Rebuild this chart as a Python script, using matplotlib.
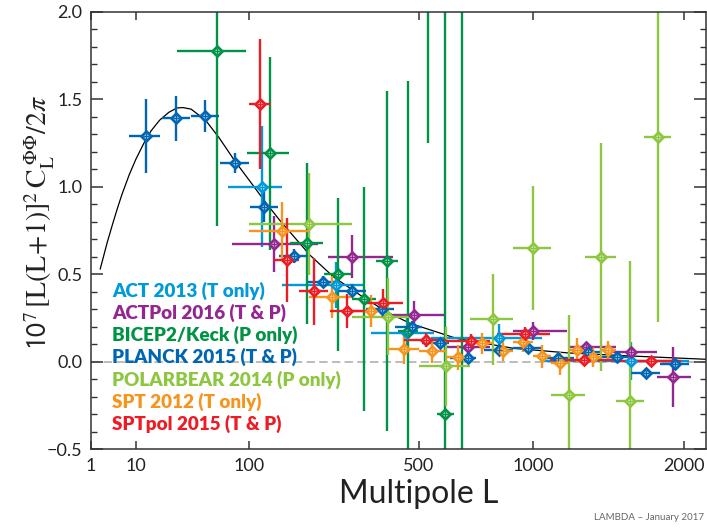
import numpy as np
import matplotlib
matplotlib.use('Agg')
import matplotlib.pyplot as plt
from matplotlib.ticker import MultipleLocator, NullLocator
from matplotlib.colors import to_rgb

plt.rcParams['font.family'] = ['Lato', 'DejaVu Sans']
plt.rcParams['mathtext.fontset'] = 'stix'

# theory curve
theory_L = [2, 3, 4, 5, 6, 8, 10, 13, 16, 20, 25, 30, 34, 40, 52, 65, 82, 100, 125,
            146, 202, 253, 320, 395, 470, 644, 900, 1190, 1600, 2190]
theory_C = [0.53, 0.68, 0.79, 0.88, 0.955, 1.07, 1.155, 1.25, 1.32, 1.38, 1.425, 1.45, 1.452,
            1.443, 1.38, 1.28, 1.15, 1.04, 0.905, 0.81, 0.61, 0.486, 0.381, 0.286, 0.22,
            0.133, 0.077, 0.051, 0.033, 0.014]

# ACT 2013 (T only)
act_L = [119, 260, 462, 830, 1602]
act_lo = [75, 150, 350, 545, 1047]
act_hi = [150, 333, 555, 1047, 2040]
act_C = [1.0, 0.438, 0.166, 0.133, 0.005]
act_err = [0.345, 0.13, 0.09, 0.08, 0.11]

# ACTPol 2016 (T & P)
actpol_L = [137, 299, 484, 692, 999, 1303, 1602, 1914]
actpol_lo = [79, 241, 416, 600, 899, 1197, 1460, 1795]
actpol_hi = [219, 416, 597, 788, 1190, 1500, 1795, 2060]
actpol_C = [0.673, 0.60, 0.267, 0.086, 0.175, 0.083, 0.057, -0.086]
actpol_err = [0.16, 0.124, 0.08, 0.035, 0.05, 0.03, 0.025, 0.17]

# BICEP2/Keck (P only)
bk_L = [63, 130, 197, 264, 331, 398, 465, 532, 599, 666]
bk_lo = [30, 97, 164, 231, 298, 365, 432, 499, 566, 633]
bk_hi = [96, 163, 230, 297, 364, 431, 498, 565, 632, 699]
bk_C = [1.777, 1.191, 0.677, 0.499, 0.357, 0.575, 0.176, 2.6, -0.301, -1.0]
bk_err = [1.0, 0.55, 0.46, 0.435, 0.64, 0.97, 1.43, 1.35, 2.6, 3.2]

# PLANCK 2015 (T & P)
planck_L = [13.7, 29.6, 51.9, 82.4, 121.6, 171.6, 230, 300, 383, 476, 578, 690, 830,
            975, 1140, 1320, 1505, 1712, 1931]
planck_lo = [8, 21, 40, 66, 101, 145, 199, 264, 337, 421, 513, 616, 760,
             900, 1055, 1230, 1410, 1605, 1815]
planck_hi = [20, 39, 65, 100, 144, 198, 263, 336, 420, 512, 615, 727, 900,
             1055, 1230, 1410, 1605, 1815, 2045]
planck_C = [1.291, 1.391, 1.404, 1.134, 0.882, 0.604, 0.455, 0.404, 0.30, 0.20, 0.105,
            0.019, 0.067, 0.079, 0.019, 0.057, 0.029, -0.063, -0.012]
planck_err = [0.21, 0.13, 0.09, 0.057, 0.085, 0.04, 0.035, 0.04, 0.035, 0.035, 0.03,
              0.03, 0.03, 0.03, 0.03, 0.03, 0.03, 0.03, 0.035]

# POLARBEAR 2014 (P only)
pb_L = [200, 400, 600, 800, 1000, 1200, 1400, 1600, 1800]
pb_lo = [100, 300, 500, 700, 900, 1100, 1300, 1500, 1700]
pb_hi = [300, 500, 700, 900, 1100, 1300, 1500, 1700, 1900]
pb_C = [0.787, 0.257, -0.025, 0.242, 0.648, -0.19, 0.6, -0.223, 1.286]
pb_err = [0.29, 0.22, 0.225, 0.26, 0.355, 0.457, 0.65, 0.80, 1.06]

# SPT 2012 (T only)
spt_L = [150, 250, 350, 450, 550, 650, 750, 850, 950, 1050, 1150, 1250, 1350, 1450]
spt_lo = [100, 200, 300, 400, 500, 600, 700, 800, 900, 1000, 1100, 1200, 1300, 1400]
spt_hi = [200, 300, 400, 500, 600, 700, 800, 900, 1000, 1100, 1200, 1300, 1400, 1500]
spt_C = [0.745, 0.368, 0.291, 0.073, 0.061, 0.025, 0.107, 0.062, 0.114, 0.031, -0.009,
         0.067, 0.027, 0.067]
spt_err = [0.167, 0.12, 0.09, 0.086, 0.07, 0.07, 0.06, 0.06, 0.06, 0.066, 0.067, 0.067,
           0.057, 0.05]

# SPTpol 2015 (T & P)
sptpol_L = [116, 158, 211, 287, 386, 526, 706, 960, 1293, 1745]
sptpol_lo = [100, 135, 181, 245, 335, 450, 600, 819, 1093, 1485]
sptpol_hi = [132, 180, 241, 335, 446, 600, 788, 1093, 1485, 1980]
sptpol_C = [1.473, 0.581, 0.402, 0.29, 0.333, 0.124, 0.119, 0.16, 0.009, 0.003]
sptpol_err = [0.37, 0.24, 0.19, 0.095, 0.085, 0.04, 0.04, 0.04, 0.03, 0.03]

labels = ['ACT 2013 (T only)', 'ACTPol 2016 (T & P)', 'BICEP2/Keck (P only)',
          'PLANCK 2015 (T & P)', 'POLARBEAR 2014 (P only)', 'SPT 2012 (T only)',
          'SPTpol 2015 (T & P)']
colors = ['#0099da', '#93278f', '#009245', '#0066b3', '#8dc63f', '#f7941e', '#ed1c24']

series = [
    (act_L, act_lo, act_hi, act_C, act_err),
    (actpol_L, actpol_lo, actpol_hi, actpol_C, actpol_err),
    (bk_L, bk_lo, bk_hi, bk_C, bk_err),
    (planck_L, planck_lo, planck_hi, planck_C, planck_err),
    (pb_L, pb_lo, pb_hi, pb_C, pb_err),
    (spt_L, spt_lo, spt_hi, spt_C, spt_err),
    (sptpol_L, sptpol_lo, sptpol_hi, sptpol_C, sptpol_err),
]


def fwd(L):
    L = np.asarray(L, dtype=float)
    return np.sign(L) * np.abs(L) ** 0.4


def inv(u):
    u = np.asarray(u, dtype=float)
    return np.sign(u) * np.abs(u) ** 2.5


def tint(c, f=0.6):
    r, g, b = to_rgb(c)
    return (r + (1 - r) * f, g + (1 - g) * f, b + (1 - b) * f)


fig = plt.figure(figsize=(7.07, 5.30), dpi=100)
ax = fig.add_axes([0.1283, 0.1523, 0.8703, 0.8257])
ax.set_xscale('function', functions=(fwd, inv))
ax.set_xlim(1, 2185)
ax.set_ylim(-0.5, 2.0)

ax.axhline(0, color='#aaaaaa', lw=1.1, dashes=(5.5, 2.8), zorder=1)
ax.plot(theory_L, theory_C, color='black', lw=0.9, zorder=1.5)

for (L, lo, hi, C, err), c in zip(series, colors):
    L = np.array(L, dtype=float)
    xerr = [L - np.array(lo), np.array(hi) - L]
    ax.errorbar(L, C, xerr=xerr, yerr=err, fmt='none', ecolor=c, elinewidth=1.7,
                capsize=0, zorder=2)
    ax.plot(L, C, 'D', ms=5.6, mfc=tint(c), mec=c, mew=1.9, zorder=3)
    ax.plot(L, C, '+', ms=4.5, color=c, mew=0.8, zorder=3.5)

for i, (lab, c) in enumerate(zip(labels, colors)):
    ax.text(0.035, 0.3624 - i * 0.0507, lab, transform=ax.transAxes, color=c,
            fontsize=13.6, fontweight='heavy', va='center', ha='left', zorder=10)

ax.set_xticks([1, 10, 100, 500, 1000, 2000])
ax.set_xticklabels(['1', '10', '100', '500', '1000', '2000'])
ax.xaxis.set_minor_locator(NullLocator())
ax.yaxis.set_major_locator(MultipleLocator(0.5))
ax.yaxis.set_minor_locator(MultipleLocator(0.1))
ax.set_yticks([-0.5, 0.0, 0.5, 1.0, 1.5, 2.0])
ax.set_yticklabels(['\u22120.5', '0.0', '0.5', '1.0', '1.5', '2.0'])

ax.tick_params(axis='both', which='both', direction='in', top=True, right=True,
               colors='#333333', labelcolor='#222222', labelsize=13)
ax.tick_params(axis='x', which='major', length=6, width=1.1, pad=6)
ax.tick_params(axis='y', which='major', length=8.5, width=1.1, pad=6)
ax.tick_params(axis='y', which='minor', length=4.5, width=1.0)
for s in ax.spines.values():
    s.set_color('#333333')
    s.set_linewidth(1.1)

fig.text(419 / 707, 1 - 494 / 530, 'Multipole L', ha='center', va='center',
         fontsize=23, color='#222222')
fig.text(40 / 707, 1 - 222 / 530,
         r'$\mathsf{10}^{7}\,[\mathrm{L(L\!+\!1)}]^{2}\,\mathrm{C}_{\mathrm{L}}^{\ \Phi\Phi}/2\pi$',
         rotation=90, ha='center', va='center', fontsize=20, color='#222222')
fig.text(704 / 707, 1 - 517 / 530, 'LAMBDA \u2013 January 2017', ha='right',
         va='center', fontsize=7, color='#666666')

fig.savefig('out.png', dpi=100)
